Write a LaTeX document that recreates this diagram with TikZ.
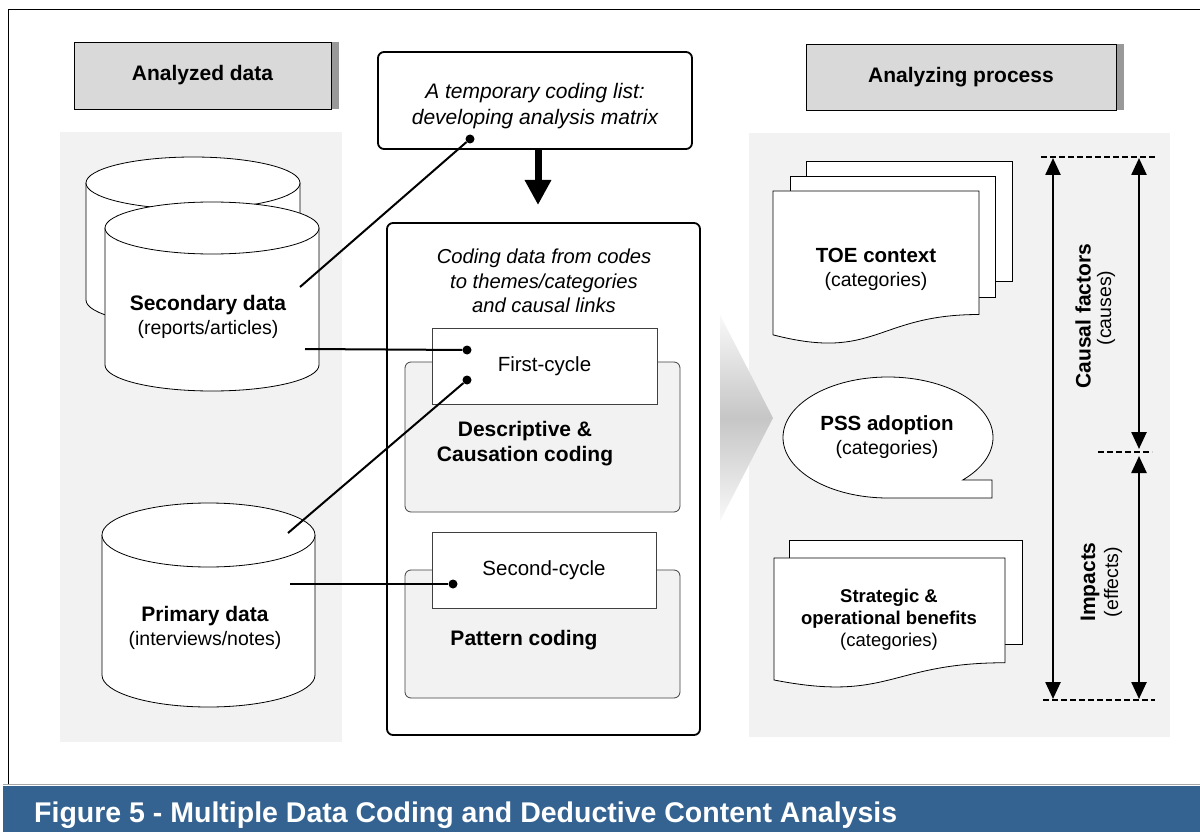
\documentclass[tikz,border=0pt]{standalone}
\usepackage{fontspec}
\setmainfont{Liberation Sans}
\usetikzlibrary{arrows.meta,shapes.geometric}
\definecolor{panel}{HTML}{F2F2F2}
\definecolor{hdr}{HTML}{D9D9D9}
\definecolor{shadowc}{HTML}{999999}
\definecolor{barblue}{RGB}{52,99,145}
\newcommand\mydoc[4]{% x1, top, x2, h
  \filldraw[docst] (#1,#2) -- (#3,#2) -- (#3,{#2+0.802*#4})
    .. controls ({(#1+#3)/2},{#2+0.802*#4}) and ({(#1+#3)/2},{#2+1.1075*#4}) ..
    (#1,{#2+0.934*#4}) -- cycle;}
\tikzset{
 hdrbox/.style={draw=black, line width=0.8pt, fill=hdr, font=\fontsize{21}{24}\selectfont\bfseries, inner sep=0},
 topbox/.style={draw=black, line width=1.8pt, rounded corners=6pt, fill=white, inner sep=0},
 midbox/.style={draw=black, line width=1.8pt, rounded corners=6pt, fill=white, inner sep=0},
 graybox/.style={draw=black!75, line width=0.8pt, rounded corners=6pt, fill=panel},
 whitebox/.style={draw=black!75, line width=0.8pt, fill=white, inner sep=0, font=\fontsize{20.5}{24}\selectfont},
 itxt/.style={font=\fontsize{21}{26}\selectfont\itshape, align=center, inner sep=0},
 itxs/.style={font=\fontsize{20.2}{24.5}\selectfont\itshape, align=center, inner sep=0},
 btxt/.style={font=\fontsize{21}{25}\selectfont\bfseries, align=center, inner sep=0},
 mtxt/.style={font=\fontsize{19.5}{24}\selectfont, align=center, inner sep=0},
 stxt/.style={font=\fontsize{18.5}{22}\selectfont, align=center, inner sep=0},
 cyl/.style={draw=black, line width=0.8pt, fill=white},
 docst/.style={draw=black, line width=0.8pt, fill=white},
 conn/.style={line width=2pt},
 dot/.style={circle, fill=black, inner sep=0, minimum size=9pt},
 dblarrow/.style={line width=2.5pt, {Triangle[width=15pt,length=17pt]}-{Triangle[width=15pt,length=17pt]}},
 dashln/.style={line width=2pt, dash pattern=on 6pt off 3pt},
 captxt/.style={font=\fontsize{28.5}{32}\selectfont\bfseries, text=white, inner sep=0},
}
\begin{document}
\begin{tikzpicture}[x=1pt,y=-1pt]
\useasboundingbox (0,0) rectangle (1200,832);
\fill[white] (0,0) rectangle (1200,832);
% frame
\draw[line width=1pt] (8.5,785) -- (8.5,9.5) -- (1201,9.5);
% caption bar
\fill[barblue] (3,786) rectangle (1200,832);
\draw[gray!70, line width=1.2pt] (3,784.5) -- (1200,784.5);
\node[captxt, anchor=base west] (cap) at (34,822) {Figure 5 - Multiple Data Coding and Deductive Content Analysis};
% panels
\fill[panel] (60,132) rectangle (342,742);
\fill[panel] (749,133) rectangle (1170,737);
% headers
\fill[shadowc] (331,42) rectangle (339,109);
\node[hdrbox, minimum width=257pt, minimum height=67pt] (hA) at (202.5,75.5) {Analyzed data};
\fill[shadowc] (1116,44) rectangle (1124,110);
\node[hdrbox, minimum width=310pt, minimum height=66pt] (hB) at (961,77) {Analyzing process};
% top box
\node[topbox, minimum width=314pt, minimum height=97pt] (tb) at (535,100.5) {};
\node[itxt] (tbt) at (535,106) {A temporary coding list:\\developing analysis matrix};
\coordinate (ta1) at (538,149);
\coordinate (ta2) at (538,205);
\draw[line width=7pt, -{Triangle[width=25pt,length=25pt]}] (ta1) -- (ta2);
% middle panel
\node[midbox, minimum width=313pt, minimum height=512pt] (mp) at (543.5,479) {};
\node[itxs] (mpt) at (544,281) {Coding data from codes\\to themes/categories\\and causal links};
\draw[graybox] (405,362) rectangle (680,512);
\node[whitebox, minimum width=225pt, minimum height=76pt] (fc) at (544.5,366) {First-cycle};
\node[btxt] (dc) at (525,444) {Descriptive \&\\Causation coding};
\draw[graybox] (405,570) rectangle (680,698);
\node[whitebox, minimum width=224pt, minimum height=76pt] (sc) at (544,570) {Second-cycle};
\node[btxt] (pc) at (524,640) {Pattern coding};
% cylinders
\filldraw[cyl] (86,183) -- (86,300) arc[start angle=180,end angle=0,x radius=107,y radius=26]
  -- (300,183) arc[start angle=0,end angle=-180,x radius=107,y radius=26] -- cycle;
\draw[cyl] (86,183) arc[start angle=180,end angle=0,x radius=107,y radius=26];
\filldraw[cyl] (105,228) -- (105,365) arc[start angle=180,end angle=0,x radius=107,y radius=26]
  -- (319,228) arc[start angle=0,end angle=-180,x radius=107,y radius=26] -- cycle;
\draw[cyl] (105,228) arc[start angle=180,end angle=0,x radius=107,y radius=26];
\node[mtxt] (sd) at (208,317) {{\bfseries\fontsize{21}{24}\selectfont Secondary data}\\(reports/articles)};
\filldraw[cyl] (102,535) -- (102,675) arc[start angle=180,end angle=0,x radius=106.5,y radius=32]
  -- (315,535) arc[start angle=0,end angle=-180,x radius=106.5,y radius=32] -- cycle;
\draw[cyl] (102,535) arc[start angle=180,end angle=0,x radius=106.5,y radius=32];
\node[mtxt] (pd) at (205,628) {{\bfseries\fontsize{21}{24}\selectfont Primary data}\\(interviews/notes)};
% connectors
\node[dot] (d1) at (467,350) {};
\node[dot] (d2) at (467,380) {};
\node[dot] (d3) at (453,584) {};
\node[dot] (d4) at (470,139) {};
\coordinate (s1) at (305,349);
\coordinate (s2) at (300,287);
\coordinate (p1) at (288,533);
\coordinate (p2) at (290,584);
\draw[conn] (s1) -- (d1);
\draw[conn] (p1) -- (d2);
\draw[conn] (p2) -- (d3);
\draw[conn] (d4) -- (s2);
% chevron
\shade[top color=gray!5, bottom color=gray!5, middle color=gray!45] (720,315) -- (773,418) -- (720,521) -- cycle;
% TOE stack
\filldraw[docst] (806,161) rectangle (1012,281);
\filldraw[docst] (790,176) rectangle (995,297);
\mydoc{773}{191}{979}{154}
\node[mtxt] (toe) at (876,269) {{\bfseries\fontsize{20.5}{24}\selectfont TOE context}\\(categories)};
% PSS bubble
\filldraw[docst] (888,498) arc[start angle=90,end angle=404.6,x radius=105,y radius=60.5] -- (992,480) -- (992,498) -- cycle;
\node[mtxt] (pss) at (887,437) {{\bfseries\fontsize{20.5}{24}\selectfont PSS adoption}\\(categories)};
% Strategic stack
\filldraw[docst] (789,540) rectangle (1022,644);
\mydoc{774}{558}{1005}{130.6}
\node[stxt] (stb) at (889,620) {\textbf{Strategic \&}\\\textbf{operational benefits}\\(categories)};
% right arrows
\coordinate (A1) at (1053,158);
\coordinate (A2) at (1053,699);
\coordinate (B1) at (1139,158);
\coordinate (B2) at (1139,449);
\coordinate (B3) at (1139,456);
\coordinate (B4) at (1139,699);
\draw[dblarrow] (A1) -- (A2);
\draw[dblarrow] (B1) -- (B2);
\draw[dblarrow] (B3) -- (B4);
\coordinate (L1) at (1041,157); \coordinate (L2) at (1155,157);
\coordinate (M1) at (1098,452); \coordinate (M2) at (1152,452);
\coordinate (N1) at (1043,700); \coordinate (N2) at (1155,700);
\draw[dashln] (L1) -- (L2);
\draw[dashln] (M1) -- (M2);
\draw[dashln] (N1) -- (N2);
\node[btxt, rotate=90] (cf) at (1083,316) {Causal factors};
\node[mtxt, rotate=90] (cs) at (1106,308) {(causes)};
\node[btxt, rotate=90] (im) at (1090,582) {Impacts};
\node[mtxt, rotate=90] (ef) at (1113,582) {(effects)};
\end{tikzpicture}
\end{document}
